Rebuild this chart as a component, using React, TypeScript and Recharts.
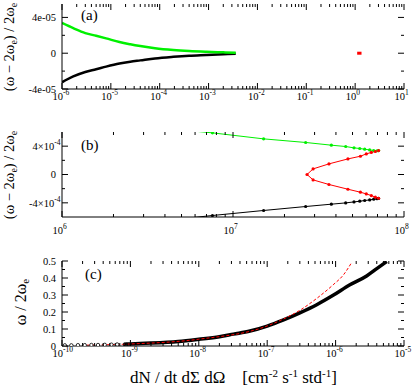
import React from 'react';
import { ComposedChart, Line, Scatter, XAxis, YAxis } from 'recharts';

const FONT = '"Liberation Serif", "Times New Roman", serif';
const PLOT_W = 342;
const PLOT_H = 85;
const GREEN = '#00f000';
const RED = '#ff0000';

// panel (a)
const aDecades = [-6, -5, -4, -3, -2, -1, 0, 1];
const aYMajor = [-4e-5, 0, 4e-5];
const aYLabels = ['-4e-05', '0', '4e-05'];
const aYMinor = [-2e-5, 2e-5];
const aGreen = [
  [1e-6, 3.38e-5], [1.7e-6, 2.8e-5], [3e-6, 2.25e-5], [5e-6, 1.95e-5], [8e-6, 1.66e-5],
  [1.5e-5, 1.25e-5], [2.5e-5, 1.0e-5], [4e-5, 0.8e-5], [8e-5, 0.55e-5], [1.9e-4, 0.35e-5],
  [4e-4, 0.24e-5], [9e-4, 0.16e-5], [2e-3, 0.1e-5], [3.6e-3, 0.06e-5],
];
const aBlack = [
  [1e-6, -3.25e-5], [1.7e-6, -2.6e-5], [3e-6, -2.1e-5], [5e-6, -1.8e-5], [8e-6, -1.5e-5],
  [1.5e-5, -1.15e-5], [2.5e-5, -0.95e-5], [4e-5, -0.8e-5], [8e-5, -0.58e-5], [1.9e-4, -0.4e-5],
  [4e-4, -0.28e-5], [9e-4, -0.2e-5], [2e-3, -0.12e-5], [3.6e-3, -0.07e-5],
];
const aRed = [[1.1, 0], [1.35, 0]];

// panel (b)
const bDecades = [6, 7, 8];
const bYMajor = [-4e-4, 0, 4e-4];
const bYLabels: (string | string[])[] = [['-4×10', '-4'], '0', ['4×10', '-4']];
const bYMinor = [-2e-4, 2e-4];
const bGreen = [
  [4.0e6, 6.5e-4], [7.58e6, 5.88e-4], [1.51e7, 5.03e-4], [2.66e7, 4.52e-4], [3.76e7, 4.14e-4],
  [4.56e7, 3.95e-4], [5.1e7, 3.76e-4], [5.51e7, 3.67e-4], [5.89e7, 3.57e-4], [6.3e7, 3.47e-4],
  [6.65e7, 3.39e-4], [6.95e7, 3.35e-4], [7.1e7, 3.38e-4],
];
const bBlack = [
  [4.0e6, -6.5e-4], [7.58e6, -5.79e-4], [1.51e7, -5.08e-4], [2.66e7, -4.52e-4], [3.76e7, -4.19e-4],
  [4.56e7, -4.01e-4], [5.1e7, -3.87e-4], [5.51e7, -3.77e-4], [5.89e7, -3.67e-4], [6.3e7, -3.59e-4],
  [6.65e7, -3.49e-4], [6.95e7, -3.42e-4], [7.1e7, -3.38e-4],
];
const bRed = [
  [7.1e7, 3.38e-4], [6.8e7, 3.25e-4], [6.44e7, 3.11e-4], [6.02e7, 2.91e-4], [5.56e7, 2.58e-4],
  [4.7e7, 2.2e-4], [3.64e7, 1.5e-4], [2.94e7, 0.79e-4], [2.71e7, 0], [2.94e7, -0.76e-4],
  [3.64e7, -1.41e-4], [4.7e7, -2.08e-4], [5.56e7, -2.5e-4], [6.02e7, -2.74e-4], [6.44e7, -2.97e-4],
  [6.8e7, -3.2e-4], [7.1e7, -3.35e-4],
];

// panel (c)
const cDecades = [-10, -9, -8, -7, -6, -5];
const cYMajor = [0, 0.1, 0.2, 0.3, 0.4, 0.5];
const cYLabels = ['0', '0.1', '0.2', '0.3', '0.4', '0.5'];
const cYMinor = [0.05, 0.15, 0.25, 0.35, 0.45];
const cBlack = [
  [8e-10, 0.011], [1e-9, 0.012], [2e-9, 0.017], [5e-9, 0.027], [1e-8, 0.04], [2e-8, 0.055],
  [3.2e-8, 0.07], [5.6e-8, 0.088], [1e-7, 0.117], [1.7e-7, 0.152], [3e-7, 0.195], [5.3e-7, 0.243],
  [9.2e-7, 0.298], [1.62e-6, 0.36], [2.84e-6, 0.412], [4e-6, 0.455], [5.6e-6, 0.497],
];
const cSparse = [
  [1.1e-10, 0.004], [1.37e-10, 0.004], [1.71e-10, 0.005], [2.15e-10, 0.005], [2.69e-10, 0.006],
  [3.36e-10, 0.006], [4.22e-10, 0.007], [5.28e-10, 0.008], [6.4e-10, 0.009],
];
const cRed = [
  [2.3e-10, 0.005], [5e-10, 0.008], [1e-9, 0.012], [1e-8, 0.04], [1e-7, 0.118], [1.71e-7, 0.158],
  [3e-7, 0.21], [5.3e-7, 0.28], [9.2e-7, 0.36], [1.3e-6, 0.418], [1.71e-6, 0.49],
];

const pts = (a: number[][]) => a.map(([x, y]) => ({ x, y }));

const logTicks = (decades: number[]) => {
  const t: number[] = [];
  decades.forEach((e, i) => {
    const last = i === decades.length - 1;
    for (let m = 1; m < (last ? 2 : 10); m++) t.push(Number(`${m}e${e}`));
  });
  return t;
};

const isDecade = (v: number) => {
  const e = Math.log10(v);
  return Math.abs(e - Math.round(e)) < 1e-6;
};

const logXTick = (labelDy: number) => (p: any) => {
  const { x, y, payload } = p;
  const v = payload.value;
  const major = isDecade(v);
  const len = major ? 6 : 3;
  return (
    <g>
      <line x1={x} x2={x} y1={y} y2={y - len} stroke="#000" />
      <line x1={x} x2={x} y1={y - PLOT_H} y2={y - PLOT_H + len} stroke="#000" />
      {major && (
        <g fontFamily={FONT} fill="#000">
          <text x={x + 1} y={y + labelDy} textAnchor="end" fontSize={10.5}>10</text>
          <text x={x + 1} y={y + labelDy - 5} textAnchor="start" fontSize={7.5}>
            {Math.round(Math.log10(v))}
          </text>
        </g>
      )}
    </g>
  );
};

const linYTick = (majors: number[], labels: (string | string[])[]) => (p: any) => {
  const { x, y, payload } = p;
  const i = majors.findIndex((m) => Math.abs(m - payload.value) < 1e-12);
  const len = i >= 0 ? 6 : 3;
  const lab = i >= 0 ? labels[i] : null;
  return (
    <g>
      <line x1={x} x2={x + len} y1={y} y2={y} stroke="#000" />
      <line x1={x + PLOT_W} x2={x + PLOT_W - len} y1={y} y2={y} stroke="#000" />
      {lab !== null && (
        Array.isArray(lab) ? (
          <text x={x - 1.5} y={y + 3.7} textAnchor="end" fontSize={10.5} fontFamily={FONT}>
            {lab[0]}
            <tspan dy={-4.5} fontSize={7.5}>{lab[1]}</tspan>
          </text>
        ) : (
          <text x={x - 6} y={y + 3.7} textAnchor="end" fontSize={10.5} fontFamily={FONT}>{lab}</text>
        )
      )}
    </g>
  );
};

const OmegaTitle = ({ tag }: { tag: string }) => (
  <g fontFamily={FONT} fill="#000">
    <text x={14} y={47} transform="rotate(-90, 14, 47)" textAnchor="middle" fontSize={14.5}>
      (ω − 2ω<tspan dy={3} fontSize={10}>e</tspan>
      <tspan dy={-3}>) / 2ω</tspan>
      <tspan dy={3} fontSize={10}>e</tspan>
    </text>
    <text x={81} y={tag === '(a)' ? 20 : 21.5} fontSize={15}>{tag}</text>
  </g>
);

const RatioTitle = () => (
  <g fontFamily={FONT} fill="#000">
    <text x={26} y={45} transform="rotate(-90, 26, 45)" textAnchor="middle" fontSize={16}>
      ω / 2ω<tspan dy={3} fontSize={11}>e</tspan>
    </text>
    <text x={85} y={21.5} fontSize={15}>(c)</text>
  </g>
);

const FluxTitle = () => (
  <text x={233.5} y={125.5} textAnchor="middle" fontSize={17} fontFamily={FONT}
    style={{ whiteSpace: 'pre' }}>
    {'dN / dt dΣ dΩ    [cm'}
    <tspan dy={-6} fontSize={11}>-2</tspan>
    <tspan dy={6}> s</tspan>
    <tspan dy={-6} fontSize={11}>-1</tspan>
    <tspan dy={6}> std</tspan>
    <tspan dy={-6} fontSize={11}>-1</tspan>
    <tspan dy={6}>]</tspan>
  </text>
);

const margin = { top: 4, right: 11, bottom: 0, left: 0 };

const frameAxes = (key: string) => [
  <XAxis key={key + 't'} xAxisId="top" orientation="top" type="number" domain={[0, 1]}
    height={0} tick={false} tickLine={false} axisLine={{ stroke: '#000' }} />,
  <YAxis key={key + 'r'} yAxisId="right" orientation="right" type="number" domain={[0, 1]}
    width={0} tick={false} tickLine={false} axisLine={{ stroke: '#000' }} />,
];

export default function App() {
  return (
    <div style={{ position: 'absolute', left: 0, top: 0, width: 415, height: 392, background: '#fff' }}>
      <div style={{ position: 'absolute', left: 0, top: 0 }}>
        <ComposedChart width={415} height={110} margin={margin}>
          <XAxis dataKey="x" type="number" scale="log" domain={[1e-6, 10]} allowDataOverflow
            ticks={logTicks(aDecades)} interval={0} tickSize={0} tickMargin={0} tickLine={false}
            height={21} axisLine={{ stroke: '#000' }} tick={logXTick(11)} />
          <YAxis type="number" domain={[-4e-5, 5.5e-5]} allowDataOverflow
            ticks={[...aYMajor, ...aYMinor].sort((p, q) => p - q)} interval={0}
            tickSize={0} tickMargin={0} tickLine={false} width={62}
            axisLine={{ stroke: '#000' }} tick={linYTick(aYMajor, aYLabels)}
            label={<OmegaTitle tag="(a)" />} />
          {frameAxes('a')}
          <Line data={pts(aBlack)} dataKey="y" type="monotone" stroke="#000" strokeWidth={2.5}
            dot={false} activeDot={false} isAnimationActive={false} />
          <Line data={pts(aGreen)} dataKey="y" type="monotone" stroke={GREEN} strokeWidth={2.5}
            dot={false} activeDot={false} isAnimationActive={false} />
          <Line data={pts(aRed)} dataKey="y" stroke={RED} strokeWidth={3}
            dot={false} activeDot={false} isAnimationActive={false} />
        </ComposedChart>
      </div>

      <div style={{ position: 'absolute', left: 0, top: 128 }}>
        <ComposedChart width={415} height={110} margin={margin}>
          <XAxis dataKey="x" type="number" scale="log" domain={[1e6, 1e8]} allowDataOverflow
            ticks={logTicks(bDecades)} interval={0} tickSize={0} tickMargin={0} tickLine={false}
            height={21} axisLine={{ stroke: '#000' }} tick={logXTick(17)} />
          <YAxis type="number" domain={[-6e-4, 6e-4]} allowDataOverflow
            ticks={[...bYMajor, ...bYMinor].sort((p, q) => p - q)} interval={0}
            tickSize={0} tickMargin={0} tickLine={false} width={62}
            axisLine={{ stroke: '#000' }} tick={linYTick(bYMajor, bYLabels)}
            label={<OmegaTitle tag="(b)" />} />
          {frameAxes('b')}
          <Line data={pts(bBlack)} dataKey="y" stroke="#000" strokeWidth={1}
            dot={{ r: 1.6, fill: '#000', stroke: 'none' }} activeDot={false} isAnimationActive={false} />
          <Line data={pts(bGreen)} dataKey="y" stroke={GREEN} strokeWidth={1}
            dot={{ r: 1.6, fill: GREEN, stroke: 'none' }} activeDot={false} isAnimationActive={false} />
          <Line data={pts(bRed)} dataKey="y" stroke={RED} strokeWidth={1}
            dot={{ r: 1.6, fill: RED, stroke: 'none' }} activeDot={false} isAnimationActive={false} />
        </ComposedChart>
      </div>

      <div style={{ position: 'absolute', left: 0, top: 257 }}>
        <ComposedChart width={415} height={135} margin={margin}>
          <XAxis dataKey="x" type="number" scale="log" domain={[1e-10, 1e-5]} allowDataOverflow
            ticks={logTicks(cDecades)} interval={0} tickSize={0} tickMargin={0} tickLine={false}
            height={46} axisLine={{ stroke: '#000' }} tick={logXTick(11)} label={<FluxTitle />} />
          <YAxis type="number" domain={[0, 0.5]} allowDataOverflow
            ticks={[...cYMajor, ...cYMinor].sort((p, q) => p - q)} interval={0}
            tickSize={0} tickMargin={0} tickLine={false} width={62}
            axisLine={{ stroke: '#000' }} tick={linYTick(cYMajor, cYLabels)}
            label={<RatioTitle />} />
          {frameAxes('c')}
          <Scatter data={pts(cSparse)} dataKey="y" isAnimationActive={false}
            shape={(p: any) => <circle cx={p.cx} cy={p.cy} r={1.7} fill="#fff" stroke="#000" strokeWidth={0.8} />} />
          <Line data={pts(cBlack)} dataKey="y" type="monotone" stroke="#000" strokeWidth={3.5}
            dot={false} activeDot={false} isAnimationActive={false} />
          <Line data={pts(cRed)} dataKey="y" type="monotone" stroke={RED} strokeWidth={1}
            strokeDasharray="3 2" dot={false} activeDot={false} isAnimationActive={false} />
        </ComposedChart>
      </div>
    </div>
  );
}
